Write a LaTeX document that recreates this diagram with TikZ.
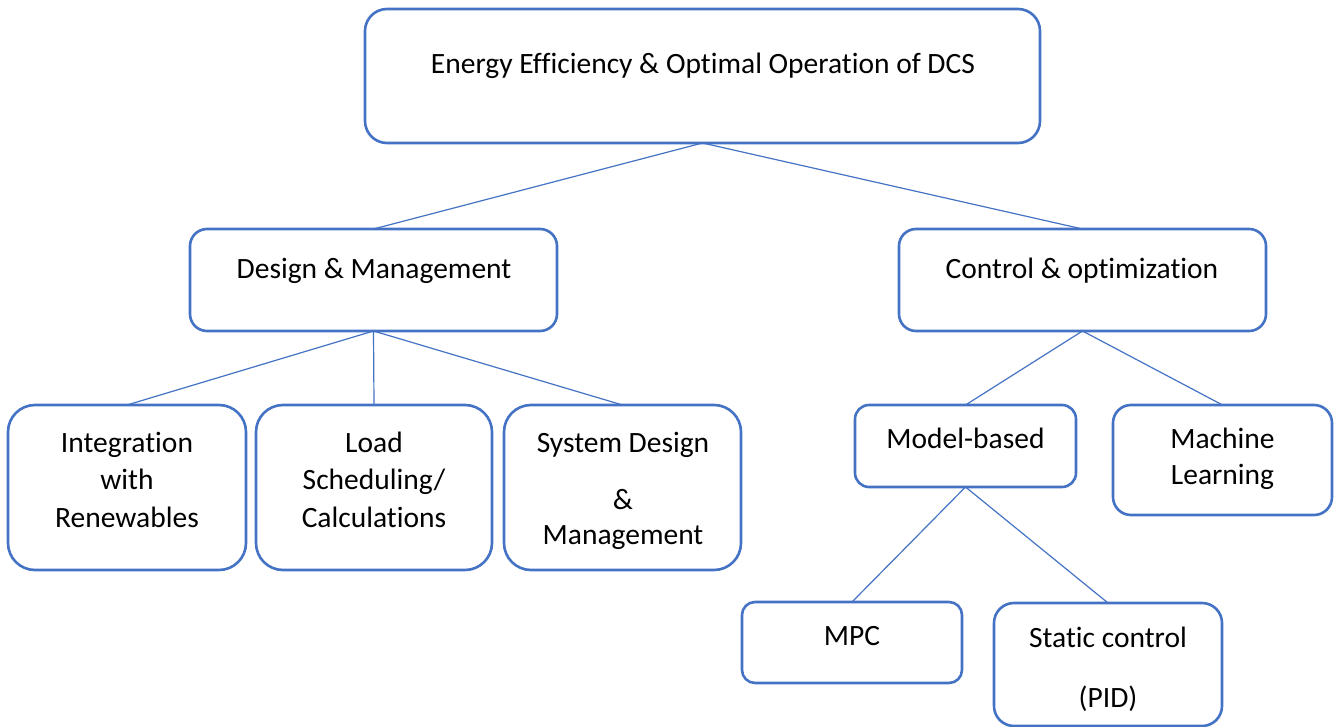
\documentclass[tikz,border=0pt]{standalone}
\usepackage{fontspec}
\setmainfont{Carlito}[Ligatures=NoCommon]
\definecolor{boxblue}{HTML}{4472C4}
\tikzset{
  box/.style={draw=boxblue, line width=2.6pt, rounded corners=#1,
    inner sep=0pt, outer sep=0pt, fill=white},
  lbl/.style={anchor=base, align=center, inner sep=0pt, text=black,
    font=\fontsize{29.5}{37.5}\selectfont},
  link/.style={draw=boxblue, line width=1.2pt},
}
\begin{document}
\begin{tikzpicture}[x=1pt, y=-1pt]
  \fill[white] (0,0) rectangle (1335,727);
  \useasboundingbox (0,0) rectangle (1335,727);

  % boxes
  \node[box=22pt, minimum width=675pt, minimum height=134pt] (top) at (702.5,76) {};
  \node[box=17pt, minimum width=367pt, minimum height=102pt] (dm)  at (373.5,280) {};
  \node[box=17pt, minimum width=367pt, minimum height=102pt] (co)  at (1082.5,280) {};
  \node[box=27pt, minimum width=238pt, minimum height=165pt] (ir)  at (127,487.5) {};
  \node[box=27pt, minimum width=236pt, minimum height=165pt] (ls)  at (374,487.5) {};
  \node[box=27pt, minimum width=237pt, minimum height=165pt] (sd)  at (622.5,487.5) {};
  \node[box=14pt, minimum width=221pt, minimum height=82pt]  (mb)  at (965.5,446) {};
  \node[box=18pt, minimum width=219pt, minimum height=110pt] (ml)  at (1222.5,460) {};
  \node[box=13pt, minimum width=220pt, minimum height=81pt]  (mpc) at (852,642.5) {};
  \node[box=20pt, minimum width=228pt, minimum height=123pt] (sc)  at (1108,664.5) {};

  % connectors
  \draw[link] (top.south) -- (dm.north);
  \draw[link] (top.south) -- (co.north);
  \draw[link] (dm.south) -- (ir.north);
  \draw[link] (dm.south) -- (ls.north);
  \draw[link] (dm.south) -- (sd.north);
  \draw[link] (co.south) -- (mb.north);
  \draw[link] (co.south) -- (ml.north);
  \draw[link] (mb.south) -- (mpc.north);
  \draw[link] (mb.south) -- (sc.north);

  % labels (base anchor = baseline of the last line)
  \node[lbl] (t-top) at (703,74)  {Energy Efficiency \& Optimal Operation of DCS};
  \node[lbl] (t-dm)  at (374,279) {Design \& Management};
  \node[lbl] (t-co)  at (1082,279) {Control \& optimization};
  \node[lbl] (t-ir)  at (127,527) {Integration\\with\\Renewables};
  \node[lbl] (t-ls)  at (374,527) {Load\\Scheduling/\\Calculations};
  \node[lbl] (t-sd)  at (623,544) {System Design\\[19.5pt]\&\\[-2.5pt]Management};
  \node[lbl] (t-mb)  at (965.5,448) {Model-based};
  \node[lbl] (t-ml)  at (1222.5,484) {Machine\\[-1.5pt]Learning};
  \node[lbl] (t-mpc) at (852,645) {MPC};
  \node[lbl] (t-sc)  at (1108,707) {Static control\\[22.5pt](PID)};
\end{tikzpicture}
\end{document}
